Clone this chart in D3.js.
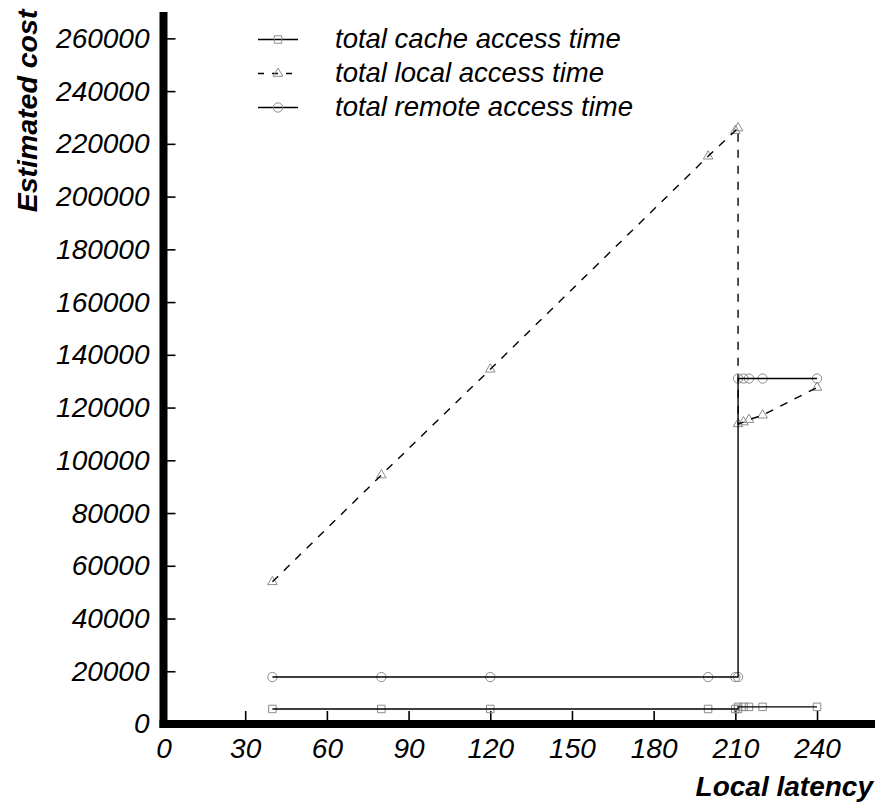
<!DOCTYPE html>
<html>
<head>
<meta charset="utf-8">
<script src="https://cdn.jsdelivr.net/npm/d3@7"></script>
<style>
  body { margin: 0; background: #fff; }
  text { font-family: "Liberation Sans", Arial, sans-serif; font-style: italic; }
</style>
</head>
<body>
<div class="cost-plot"></div>
<script>
// latency values (x) shared by all series
const latency = [40, 80, 120, 200, 210, 211, 211, 213, 215, 220, 240];

const cacheTime  = [5700, 5700, 5700, 5700, 5700, 5700, 6500, 6500, 6500, 6500, 6500];
const localTime  = [53900, 94400, 134500, 215300, 225000, 226000, 113800, 114500, 115400, 117100, 127600];
const remoteTime = [17800, 17800, 17800, 17800, 17800, 17800, 131000, 131000, 131000, 131000, 131000];

const seriesNames = ['total cache access time', 'total local access time', 'total remote access time'];

const xTicks = [0, 30, 60, 90, 120, 150, 180, 210, 240];
const yTicks = [0, 20000, 40000, 60000, 80000, 100000, 120000, 140000, 160000, 180000, 200000, 220000, 240000, 260000];

const width = 880;
const height = 804;

const svg = d3.select('.cost-plot')
    .append('svg')
    .attr('width', width)
    .attr('height', height);

const x = d3.scaleLinear().domain([0, 260]).range([163.5, 871.5]);
const y = d3.scaleLinear().domain([0, 270000]).range([724, 12]);

const series = [
    {name: seriesNames[0], values: cacheTime,  symbol: d3.symbolSquare,   size: 56, dash: null},
    {name: seriesNames[1], values: localTime,  symbol: d3.symbolTriangle, size: 40, dash: '8,8'},
    {name: seriesNames[2], values: remoteTime, symbol: d3.symbolCircle,   size: 68, dash: null},
];

// y axis ticks + labels
const yAxis = d3.axisLeft(y)
    .tickValues(yTicks)
    .tickSizeInner(-12)
    .tickSizeOuter(0)
    .tickPadding(14)
    .tickFormat(d3.format('d'));

const gy = svg.append('g')
    .attr('transform', `translate(${x(0)},0)`)
    .call(yAxis);
gy.select('.domain').remove();
gy.selectAll('line').attr('stroke', '#000').attr('stroke-width', 1.6);
gy.selectAll('text')
    .attr('font-size', 28)
    .attr('fill', '#000')
    .attr('font-family', '"Liberation Sans", Arial, sans-serif');

// x axis ticks + labels
const xAxis = d3.axisBottom(x)
    .tickValues(xTicks)
    .tickSizeInner(-13)
    .tickSizeOuter(0)
    .tickPadding(14);

const gx = svg.append('g')
    .attr('transform', `translate(0,${y(0)})`)
    .call(xAxis);
gx.select('.domain').remove();
gx.selectAll('line').attr('stroke', '#000').attr('stroke-width', 1.6);
gx.selectAll('text')
    .attr('font-size', 28)
    .attr('fill', '#000')
    .attr('font-family', '"Liberation Sans", Arial, sans-serif');

// thick axis lines
svg.append('line')
    .attr('x1', x(0)).attr('x2', x(0))
    .attr('y1', 12).attr('y2', y(0) + 4)
    .attr('stroke', '#000').attr('stroke-width', 8);
svg.append('line')
    .attr('x1', x(0) - 4).attr('x2', 875)
    .attr('y1', y(0)).attr('y2', y(0))
    .attr('stroke', '#000').attr('stroke-width', 8);

// series
const line = d3.line()
    .x((d, i) => x(latency[i]))
    .y(d => y(d));

series.forEach(s => {
    svg.append('g')
        .selectAll('path')
        .data(s.values)
        .enter()
        .append('path')
        .attr('d', d3.symbol().type(s.symbol).size(s.size))
        .attr('transform', (d, i) => `translate(${x(latency[i])},${y(d)})`)
        .attr('fill', 'none')
        .attr('stroke', '#8c8c8c')
        .attr('stroke-width', 1);

    svg.append('path')
        .datum(s.values)
        .attr('d', line)
        .attr('fill', 'none')
        .attr('stroke', '#000')
        .attr('stroke-width', 1.4)
        .attr('stroke-dasharray', s.dash);
});

// legend
const legend = svg.append('g');
series.forEach((s, i) => {
    const ly = 39.5 + i * 34;
    legend.append('line')
        .attr('x1', 258).attr('x2', 298)
        .attr('y1', ly).attr('y2', ly)
        .attr('stroke', '#000')
        .attr('stroke-width', 1.4)
        .attr('stroke-dasharray', s.dash ? '6,8' : null);
    legend.append('path')
        .attr('d', d3.symbol().type(s.symbol).size(s.size))
        .attr('transform', `translate(278,${ly})`)
        .attr('fill', 'none')
        .attr('stroke', '#8c8c8c');
    legend.append('text')
        .attr('x', 335)
        .attr('y', ly + 8)
        .attr('font-size', 27.5)
        .text(s.name);
});

// axis titles
svg.append('text')
    .attr('transform', 'translate(37,111) rotate(-90)')
    .attr('text-anchor', 'middle')
    .attr('font-size', 28.5)
    .attr('font-weight', 'bold')
    .text('Estimated cost');

svg.append('text')
    .attr('x', 873)
    .attr('y', 796)
    .attr('text-anchor', 'end')
    .attr('font-size', 28)
    .attr('font-weight', 'bold')
    .text('Local latency');
</script>
</body>
</html>
